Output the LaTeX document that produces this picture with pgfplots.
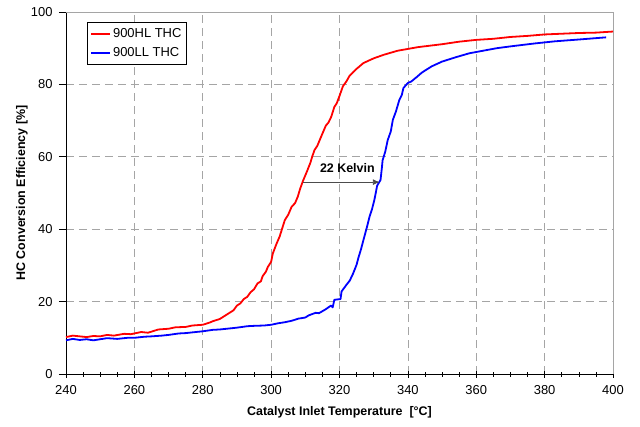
\documentclass[border=0pt]{standalone}
\usepackage{pgfplots}
\pgfplotsset{compat=1.18}
\usepackage{pgfplotstable}
\usepackage{fontspec}
\setmainfont{Liberation Sans}
\usetikzlibrary{arrows.meta}
\definecolor{gridgray}{RGB}{165,165,165}

\pgfplotstableread{
x y
240 10.2
242 10.6
244 10.4
246 10.2
248 10.5
250 10.4
252 10.8
254 10.6
257 11.1
259 11.0
262 11.6
264 11.4
267 12.3
270 12.5
272 12.9
275 13.0
277 13.4
280 13.6
282 14.2
283 14.6
285 15.2
286 15.8
288 17.0
289 17.6
290 18.9
291 19.5
292 20.7
293 21.3
294 22.6
295 23.4
296 25.0
297 25.6
297.5 27.0
298.5 28.3
299 29.5
300 31.0
300.5 33.3
301.5 35.8
302.5 38.0
303 39.5
304 42.5
305 44.0
306 46.2
307 47.2
307.8 49.0
308.5 51.2
309.3 53.3
310.5 56.0
311.5 58.4
312 60.0
312.7 61.9
313.5 63.0
314.2 64.6
315 66.4
316 68.6
316.8 69.5
317.6 71.1
318.5 73.8
319.2 74.8
320 76.8
321 79.5
322 80.8
322.9 82.3
324 83.4
325 84.3
327 85.9
330 87.2
333 88.2
337 89.3
343 90.3
350 91.1
355 91.8
360 92.3
365 92.6
370 93.1
375 93.4
380 93.8
385 94.0
390 94.2
395 94.3
400 94.6
}\hltable

\pgfplotstableread{
x y
240 9.3
242 9.7
244 9.4
246 9.6
248 9.3
250 9.6
252 9.9
255 9.7
258 10.0
260 10.0
263 10.3
265 10.4
268 10.6
270 10.8
273 11.2
275 11.3
278 11.6
280 11.8
283 12.2
285 12.3
288 12.6
290 12.8
293 13.2
295 13.3
298 13.4
300 13.6
302 14.0
304 14.3
306 14.7
308 15.3
310 15.6
311 16.2
313 16.9
314 16.8
316 17.9
317.5 18.9
318 18.4
318.5 20.5
320.3 20.7
320.6 22.8
322 24.6
323 25.8
324 27.8
325 30.2
325.5 32.0
326.3 34.5
327 37.0
328 40.5
328.8 43.5
329.5 45.5
330.2 48.1
330.6 50.0
331 52.0
332 53.6
332.4 57.0
332.6 59.0
333.4 61.5
334.1 64.6
335 67.0
335.6 70.2
336.5 72.5
337.5 75.7
338.2 77.0
338.7 79.0
340 80.4
341 80.8
342.8 82.2
344 83.2
345.3 84.0
347 85.0
350 86.3
354 87.5
358 88.6
362 89.3
366 90.0
370 90.5
377 91.3
383 91.9
390 92.4
394 92.7
398 93.0
}\lltable

\begin{document}
\begin{tikzpicture}
\useasboundingbox (-66bp,-53bp) rectangle (574bp,374bp);
\begin{axis}[
  at={(0,0)}, anchor=south west,
  scale only axis, width=547bp, height=362bp,
  xmin=240, xmax=400, ymin=0, ymax=100,
  xtick={240,260,...,400}, ytick={0,20,...,100},
  minor x tick num=3,
  axis lines=left,
  axis line style={-, black, line width=0.8bp},
  x tick style={black, line width=0.6bp},
  y tick style={black, line width=0.6bp},
  xtick align=center, ytick align=outside,
  major tick length=7bp, minor tick length=5bp,
  grid=major,
  major grid style={gridgray, dash pattern=on 8bp off 5bp, line width=0.7bp},
  tick label style={font=\fontsize{13}{15}\selectfont},
  /pgf/number format/assume math mode=true,
  xticklabel style={yshift=-4bp},
  yticklabel style={xshift=-3bp},
  xlabel={\bfseries Catalyst Inlet Temperature\ \ [°C]},
  ylabel={\bfseries HC Conversion Efficiency [\%]},
  label style={font=\fontsize{12.5}{15}\selectfont},
  xlabel style={at={(axis description cs:0.5,-0.105)}, anchor=center},
  ylabel style={at={(axis description cs:-0.0805,0.5)}, anchor=center},
  legend style={at={(rel axis cs:0.038,0.972)}, anchor=north west,
    draw=black, line width=0.6bp, font=\fontsize{13}{15}\selectfont,
    inner xsep=3bp, inner ysep=4bp, row sep=5bp},
  legend cell align=left,
  legend image code/.code={\draw[#1, line width=2bp] (0bp,0bp) -- (19bp,0bp);},
  clip=false,
]
\draw[gridgray, line width=0.8bp] (rel axis cs:0,1) -- (rel axis cs:1,1) -- (rel axis cs:1,0);
\addplot[red, line width=1.8bp, line join=round] table[x=x,y=y] {\hltable};
\addlegendentry{900HL THC}
\addplot[blue, line width=1.8bp, line join=round] table[x=x,y=y] {\lltable};
\addlegendentry{900LL THC}
\draw[-{Latex[length=7bp,width=6bp]}, line width=0.9bp, black!70] (axis cs:309.2,53) -- (axis cs:331.8,53);
\node[font=\fontsize{12.5}{15}\selectfont\bfseries] at (axis cs:322.3,56.9) {22 Kelvin};
\end{axis}
\end{tikzpicture}
\end{document}
